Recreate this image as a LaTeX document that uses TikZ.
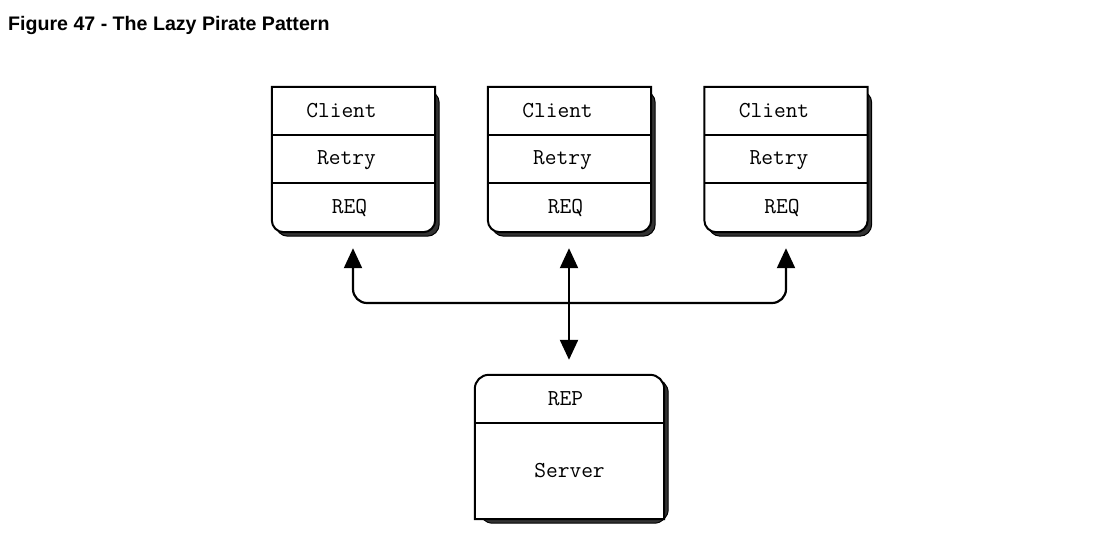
\documentclass[tikz,border=0pt]{standalone}
\usepackage{fontspec}
\setmainfont{Liberation Sans}
\usetikzlibrary{arrows.meta,calc}
\begin{document}
\begin{tikzpicture}[x=1pt,y=-1pt,
  boxframe/.style={draw=none,inner sep=0pt,minimum width=163pt,minimum height=145pt},
  srvframe/.style={draw=none,inner sep=0pt,minimum width=189pt,minimum height=144pt},
  lbl/.style={font=\ttfamily\fontsize{22.8}{25}\selectfont,inner sep=0pt,anchor=center},
  edge/.style={line width=2pt},
  shadowfill/.style={fill=black!80,draw=black,line width=1pt},
  boxfill/.style={fill=white,draw=black,line width=2pt},
  link/.style={line width=2.2pt,{Triangle[length=20pt,width=18pt]}-{Triangle[length=20pt,width=18pt]}}
]
\useasboundingbox (0,0) rectangle (1107,542);
\node[anchor=base west,inner sep=0pt,font=\bfseries\fontsize{19.6}{22}\selectfont] (title) at (8,30) {Figure 47 - The Lazy Pirate Pattern};

% client boxes
\foreach \n/\cx in {c1/353.5,c2/569.5,c3/786} {
  \node[boxframe] (\n) at (\cx,159.5) {};
  \fill[shadowfill,rounded corners=12pt] ($(\n.north west)+(4,4)$) -- ($(\n.north east)+(4,4)$) -- ($(\n.south east)+(4,4)$) -- ($(\n.south west)+(4,4)$) -- cycle;
  \path[boxfill] (\n.north west) -- (\n.north east) [rounded corners=12pt] -- (\n.south east) -- (\n.south west) [sharp corners] -- cycle;
  \draw[edge] ($(\n.north west)+(0,48)$) -- ($(\n.north east)+(0,48)$);
  \draw[edge] ($(\n.north west)+(0,96)$) -- ($(\n.north east)+(0,96)$);
  \node[lbl] (\n-name) at ($(\n.north)+(-12,24)$) {Client};
  \node[lbl] (\n-retry) at ($(\n.north)+(-7,73)$) {Retry};
  \node[lbl] (\n-req) at ($(\n.north)+(-4,121)$) {REQ};
}

% server box
\node[srvframe] (srv) at (569.5,447) {};
\fill[shadowfill,rounded corners=14pt] ($(srv.north west)+(4,4)$) -- ($(srv.north east)+(4,4)$) -- ($(srv.south east)+(4,4)$) -- ($(srv.south west)+(4,4)$) -- cycle;
\path[boxfill] (srv.south west) [rounded corners=14pt] -- (srv.north west) -- (srv.north east) [sharp corners] -- (srv.south east) -- cycle;
\draw[edge] ($(srv.north west)+(0,48)$) -- ($(srv.north east)+(0,48)$);
\node[lbl] (srv-rep) at ($(srv.north)+(-4,24)$) {REP};
\node[lbl] (srv-name) at ($(srv.north)+(0,96)$) {Server};

% connectors
\coordinate (t1) at ($(c1.south)+(-0.5,16)$);
\coordinate (t2) at ($(c2.south)+(-0.5,16)$);
\coordinate (t3) at ($(c3.south)+(0,16)$);
\coordinate (bus) at (0,303);
\coordinate (ts) at ($(srv.north)+(-0.5,-15)$);
\draw[link,rounded corners=14pt] (t1) -- (t1 |- bus) -- (t3 |- bus) -- (t3);
\draw[link] (t2) -- (ts);
\end{tikzpicture}
\end{document}
